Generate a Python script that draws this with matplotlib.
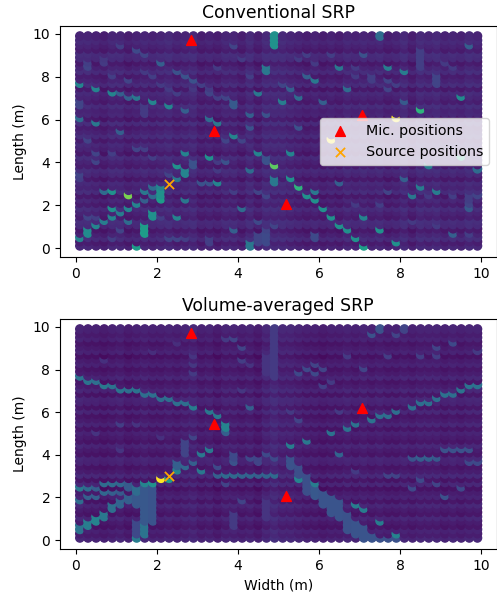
import numpy as np
import matplotlib
matplotlib.use("Agg")
import matplotlib.pyplot as plt

width_m = [0.1 + 0.2 * i for i in range(50)]
length_m = [0.1 + 0.2 * i for i in range(50)]
mic_x = [2.83, 3.40, 5.17, 7.05]
mic_y = [9.72, 5.45, 2.07, 6.20]
src_x = [2.30]
src_y = [3.00]

col_top = [.10,.10,.09,.08,.10,.10,.08,.09,.10,.09,.10,.11,.09,.10,.11,.08,.09,.08,.10,.10,.08,.11,.08,.11,.11,
           .11,.10,.09,.08,.09,.08,.09,.08,.10,.09,.10,.09,.10,.08,.09,.11,.08,.11,.10,.11,.09,.10,.09,.11,.10]
row_top = [.01,-.02,.03,.00,-.03,.02,.03,-.02,.00,.03,-.02,.01,-.03,.03,.00,.02,-.03,.01,.03,-.02,.00,.03,-.03,.00,.02,
           -.02,.03,.00,-.02,.03,-.03,.01,.00,.03,-.02,.00,.02,-.03,.03,.00,-.02,.03,.00,-.03,.02,.03,-.02,.00,.02,.00]
col_bot = [.08,.07,.07,.06,.07,.08,.06,.07,.08,.07,.07,.08,.07,.08,.09,.07,.08,.06,.08,.08,.07,.08,.06,.09,.11,
           .09,.09,.08,.07,.07,.06,.07,.07,.08,.07,.08,.07,.08,.07,.07,.08,.07,.08,.08,.08,.07,.08,.07,.08,.08]
row_bot = [.03,.00,.02,-.02,.00,.03,-.02,.00,.03,-.02,.02,.00,-.03,.03,-.02,.04,.00,-.02,.02,.03,-.02,.00,.03,-.02,.00,
           .02,-.02,.03,.00,-.02,.03,-.02,.02,.03,-.02,.03,.00,-.02,.03,.00,-.02,.02,.00,-.03,.02,.00,-.02,.02,.00,.02]

# (column, first row, last row, level)
top_faint = [
    (1,43,43,.18),(3,44,44,.16),(5,47,47,.18),(8,41,41,.17),(9,40,40,.18),(10,38,38,.17),(11,37,37,.17),(12,36,36,.18),
    (14,37,37,.16),(15,38,38,.17),(16,37,37,.17),(17,35,35,.18),(18,35,35,.17),(19,34,34,.2),
    (1,25,25,.2),(2,22,22,.2),(4,22,22,.18),(7,23,23,.2),(8,23,23,.18),(9,21,21,.18),(11,17,17,.2),(14,19,19,.2),(15,15,15,.2),
    (18,25,25,.2),(20,25,25,.2),(17,18,18,.17),(19,13,13,.18),(22,13,13,.2),(23,12,12,.2),(0,16,16,.18),(2,7,7,.18),(1,7,7,.2),
    (5,4,4,.2),(4,2,2,.18),(10,7,7,.18),(11,2,2,.2),(12,2,2,.2),(13,2,2,.18),(22,6,6,.22),(22,1,3,.2),(23,4,4,.2),(24,5,5,.2),
    (27,44,44,.17),(29,43,43,.17),(31,45,45,.18),(34,40,40,.17),(36,40,40,.18),(38,39,39,.2),(42,42,46,.18),(44,38,40,.2),
    (45,43,43,.17),(46,42,42,.17),(39,38,38,.18),(25,38,38,.2),(38,13,13,.2),(43,12,12,.17),(46,12,12,.18),(48,9,10,.2),
    (49,12,12,.2),(29,2,3,.22),(34,10,10,.17),(37,10,10,.18),(41,6,6,.17),(44,5,5,.17),(48,3,3,.18)]
top_left_peaks = [
    (0,38,38,.45),(2,37,37,.45),(4,36,36,.45),(5,36,36,.3),(6,35,35,.3),(7,35,35,.4),(9,34,34,.45),
    (11,33,33,.45),(13,32,32,.3),(0,30,30,.35),(2,29,29,.4),(5,27,27,.3),(16,30,30,.35),(17,29,29,.4),
    (19,26,26,.45),(24,47,49,.5),(22,36,36,.4),(23,41,42,.4),(14,39,39,.25),(10,43,43,.3),(13,40,40,.25),
    (12,41,41,.25),(8,45,45,.2),(7,46,46,.22),(6,39,39,.2),(19,47,47,.2),(21,31,31,.3),(23,31,31,.25),
    (19,33,34,.28),(21,28,28,.25),(1,42,42,.2),(0,33,34,.2),(8,31,33,.17),(4,40,40,.18),(3,43,43,.17),
    (18,35,35,.2),(20,44,44,.17),(16,36,36,.2),(15,38,38,.18),(17,42,42,.17),(21,40,40,.18)]
top_low_left_peaks = [
    (13,22,22,.45),(12,19,19,.5),(13,17,18,.45),(12,16,16,.4),(10,14,14,.45),(10,12,13,.5),(10,11,11,.55),
    (9,14,14,.35),(9,12,12,.35),(8,13,13,.4),(8,11,11,.3),(6,12,12,.8),(4,13,13,.5),(3,13,13,.35),(7,10,10,.45),
    (4,9,9,.5),(6,9,9,.45),(5,8,8,.42),(4,7,7,.45),(6,6,6,.35),(9,7,8,.5),(12,7,7,.45),(13,11,11,.4),(3,6,6,.42),
    (2,5,5,.45),(8,3,5,.55),(1,3,4,.48),(0,2,2,.45),(7,0,0,.55),(16,21,21,.5),(22,22,22,.45),(24,19,19,.75),
    (17,15,15,.45),(21,18,18,.35),(24,15,16,.4),(20,9,9,.35),(19,4,4,.3),(21,0,1,.4),(16,15,15,.25),(15,15,15,.25),
    (18,20,20,.25),(14,19,20,.25),(2,20,20,.2),(0,17,17,.2),(23,1,3,.22),(23,20,21,.25),(16,1,2,.18),(17,20,20,.17)]
top_right_peaks = [
    (37,49,49,.35),(38,42,42,.42),(40,41,41,.42),(32,42,42,.4),(29,39,39,.4),(28,40,40,.3),(33,37,37,.35),
    (26,37,37,.3),(27,35,35,.35),(25,34,34,.42),(30,34,34,.3),(47,35,35,.48),(42,32,32,.65),(39,30,30,1.0),
    (48,47,47,.3),(35,45,45,.25),(40,34,34,.28),(27,28,28,.25),(31,25,25,1.0),(26,22,22,.45),(26,16,16,.5),
    (27,14,14,.65),(28,12,12,.5),(29,13,13,.4),(29,11,11,.5),(30,9,9,.5),(31,7,7,.5),(32,5,5,.5),(33,4,4,.5),
    (34,2,2,.5),(35,0,0,.55),(35,7,7,.45),(37,4,4,.5),(39,1,1,.5),(40,16,16,.3),(42,14,14,.42),(41,12,12,.4),
    (44,13,13,.42),(43,19,19,.42),(49,18,18,.35),(47,21,21,.6),(32,15,15,.3),(46,3,3,.3),(48,9,9,.28),
    (44,38,38,.2),(36,39,39,.18),(28,45,45,.18),(34,42,42,.17),(38,37,37,.2),(48,11,12,.18)]
bot_faint = [
    (5,27,27,.18),(18,47,47,.17),(19,47,47,.2),(20,45,45,.2),(20,42,42,.18),(14,43,43,.15),(14,41,41,.16),(14,39,39,.17),
    (13,20,23,.2),(14,24,24,.2),(19,18,18,.25),(21,19,19,.22),(23,20,20,.22),(24,19,19,.22),(17,17,17,.22),(18,13,13,.2),
    (20,9,9,.2),(19,3,6,.17),(26,30,30,.17),(27,28,28,.2),(32,30,30,.17),(33,43,43,.17),(38,43,43,.18),(42,43,43,.18),
    (44,45,45,.2),(49,44,44,.17),(30,36,36,.18),(31,37,37,.17),(34,16,16,.17),(38,15,15,.2),(39,15,15,.2),(42,14,14,.22),
    (41,12,12,.22),(44,13,13,.2),(5,21,21,.15),(2,25,25,.15),(7,27,27,.15),(10,24,24,.14),(3,42,42,.14),(9,44,44,.13),(12,46,46,.13)]
bot_left_peaks = [
    (0,38,38,.38),(1,37,37,.38),(2,37,37,.36),(3,36,36,.4),(4,36,36,.38),(5,35,35,.38),(6,35,35,.36),(7,35,35,.38),
    (8,34,34,.36),(9,34,34,.36),(10,33,33,.35),(11,33,33,.36),(12,32,32,.36),(13,32,32,.36),(14,31,31,.42),
    (16,30,30,.4),(17,29,29,.4),(18,26,27,.45),(18,25,25,.3),(21,31,31,.3),(24,38,49,.17),(23,39,43,.15),(21,41,41,.15),(20,35,35,.16),
    (10,14,14,1.0),(11,14,14,.55),(9,13,13,.5),(9,4,12,.26),(8,13,13,.45),(8,4,12,.27),(7,11,12,.35),(7,8,10,.27),
    (12,16,16,.45),(12,17,18,.3),(13,17,17,.33),(14,18,18,.3),(15,16,16,.4),(15,20,20,.4),(16,21,21,.4),
    (17,15,15,.3),(18,15,15,.34),(19,15,15,.34),(20,15,15,.32),(21,15,15,.32),(22,15,15,.3),(23,15,15,.32),(24,15,15,.34),
    (0,12,12,.4),(1,12,12,.35),(2,12,12,.3),(3,13,13,.35),(4,13,13,.35),(5,13,13,.33),(6,12,13,.28),
    (0,9,9,.35),(1,10,10,.3),(2,10,10,.3),(3,11,11,.33),(4,11,11,.3),(5,11,11,.28),(6,9,10,.3),
    (0,2,3,.38),(1,3,4,.42),(2,4,5,.45),(3,5,6,.4),(4,7,8,.36),(5,8,9,.32),(7,0,0,.42),(8,1,3,.38),(7,1,4,.22),
    (19,19,20,.22),(22,18,19,.2),(23,5,9,.15)]
bot_right_peaks = [
    (37,49,49,.25),(40,49,49,.2),(49,36,36,.38),(48,36,36,.38),(47,35,35,.38),(46,34,34,.36),(45,34,34,.38),(44,33,33,.36),
    (43,32,32,.36),(42,32,32,.36),(41,31,31,.36),(39,30,30,.36),(38,29,29,.36),(37,29,29,.36),(36,28,28,.38),
    (34,27,27,.38),(33,26,26,.38),(31,25,25,.38),(27,39,39,.22),(28,40,40,.22),(29,39,39,.22),(29,41,41,.2),
    (30,40,40,.2),(35,40,40,.2),(36,48,48,.25),(39,48,48,.2),(46,46,46,.22),(44,43,43,.18),
    (26,22,22,.42),(28,23,23,.4),(32,20,20,.32),(26,17,19,.25),(27,15,17,.24),(28,11,15,.24),(29,10,12,.27),(30,8,11,.26),(31,6,10,.26),(32,5,9,.26),(33,2,6,.25),
    (34,1,4,.26),(35,0,3,.26),(36,0,1,.26),(37,0,0,.25),(38,0,0,.25),(39,0,0,.25),
    (27,14,14,.45),(29,13,13,.42),(34,8,8,.42),(35,7,7,.42),(37,4,4,.42),(39,1,1,.45),
    (41,19,19,.26),(42,19,19,.3),(43,19,19,.3),(44,19,19,.28),(45,21,21,.25),(46,21,21,.25),(47,21,21,.25),(48,21,21,.25),
    (48,18,18,.22),(49,18,18,.22),(45,10,10,.25),(47,12,12,.22)]


def build(col_base, row_base, *peak_lists):
    grid = np.array([[c + r for r in row_base] for c in col_base])
    for peaks in peak_lists:
        for col, first, last, level in peaks:
            grid[col, first:last + 1] = level
    return grid


top_grid = build(col_top, row_top, top_faint, top_left_peaks, top_low_left_peaks, top_right_peaks)
bot_grid = build(col_bot, row_bot, bot_faint, bot_left_peaks, bot_right_peaks)

fig = plt.figure(figsize=(4.97, 5.94), dpi=100)
W, H = 497, 594
ax1 = fig.add_axes([60 / W, (H - 257) / H, 436.5 / W, 231 / H])
ax2 = fig.add_axes([60 / W, (H - 549) / H, 436.5 / W, 230 / H])
xx, yy = np.meshgrid(width_m, length_m, indexing="ij")

for ax, grid, title in ((ax1, top_grid, "Conventional SRP"), (ax2, bot_grid, "Volume-averaged SRP")):
    ax.scatter(xx.ravel(), yy.ravel(), c=grid.ravel(), cmap="viridis", vmin=0, vmax=1, s=36, zorder=1)
    ax.scatter(mic_x, mic_y, c="red", marker="^", s=50, label="Mic. positions", zorder=2)
    ax.scatter(src_x, src_y, c="orange", marker="x", s=44, linewidths=1.3, label="Source positions", zorder=3)
    ax.set_xlim(-0.39, 10.37)
    ax.set_ylim(-0.42, 10.37)
    ax.set_xticks([0, 2, 4, 6, 8, 10])
    ax.set_yticks([0, 2, 4, 6, 8, 10])
    ax.set_ylabel("Length (m)")
    ax.set_title(title, fontsize=12.4)
ax1.legend(loc="center right", fontsize=10.3, bbox_to_anchor=(0.99, 0.5), borderaxespad=0.2)
ax2.set_xlabel("Width (m)")
fig.savefig("out.png", dpi=100)
